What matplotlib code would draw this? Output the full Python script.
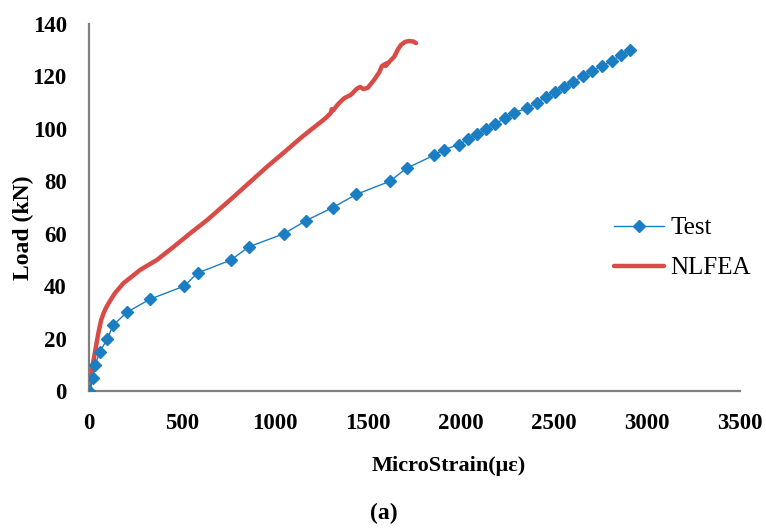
import matplotlib
matplotlib.use("Agg")
import matplotlib.pyplot as plt

# Test data
test_strain = [0, 23, 32, 59, 99, 129, 203, 327, 511, 584, 764, 859, 1048, 1167,
               1311, 1437, 1617, 1708, 1857, 1906, 1989, 2037, 2086, 2132, 2184,
               2237, 2283, 2355, 2406, 2456, 2504, 2553, 2604, 2654, 2706, 2760,
               2812, 2860, 2906]
test_load = [0, 5, 10, 15, 20, 25, 30, 35, 40, 45, 50, 55, 60, 65,
             70, 75, 80, 85, 90, 92, 94, 96, 98, 100, 102,
             104, 106, 108, 110, 112, 114, 116, 118, 120, 122, 124,
             126, 128, 130]

# NLFEA curve
fea_strain = [0, 10, 20, 35, 50, 65, 80, 95, 115, 140, 185, 275, 365, 455, 545,
              635, 778, 958, 1048, 1138, 1192, 1264, 1300, 1305, 1312, 1340,
              1372, 1408, 1440, 1458, 1475, 1498, 1533, 1560, 1575, 1600, 1595,
              1620, 1641, 1660, 1677, 1700, 1720, 1745, 1758]
fea_load = [0, 5, 10, 16, 22, 27, 30, 32.2, 34.6, 37.4, 41.1, 46.2, 50, 55, 60.2,
            65.2, 74.1, 85.6, 91, 96.5, 99.6, 103.6, 106, 107.5, 107, 109.5,
            111.7, 113, 115.3, 116, 115.2, 115.6, 118.7, 121.5, 124, 125, 124,
            126, 127.5, 130.2, 132, 133.2, 133.5, 133.3, 132.7]

plt.rcParams['font.family'] = ['Liberation Serif', 'DejaVu Serif']

fig = plt.figure(figsize=(7.66, 5.31), dpi=100)
ax = fig.add_axes([89/766, 1 - 391/531, (740 - 89)/766, (391 - 24)/531])

ax.plot(test_strain, test_load, color='#1b7ec2', lw=1.0, marker='D',
        markersize=6, label='Test', zorder=3)
ax.plot(fea_strain, fea_load, color='#d94b46', lw=3.2, label='NLFEA',
        solid_capstyle='round', solid_joinstyle='round', zorder=2)

ax.set_xlim(0, 3500)
ax.set_ylim(0, 140)
ax.set_xticks(range(0, 3501, 500))
ax.set_yticks(range(0, 141, 20))

for s in ('top', 'right'):
    ax.spines[s].set_visible(False)
for s in ('left', 'bottom'):
    ax.spines[s].set_color('#808080')
    ax.spines[s].set_linewidth(1.6)

ax.tick_params(length=0, labelsize=16.5, pad=16)
for lab in ax.get_xticklabels() + ax.get_yticklabels():
    lab.set_fontweight('bold')

fig.text(449/766, 1 - 466/531, 'MicroStrain(με)', ha='center', va='center',
         fontsize=16, fontweight='bold')
fig.text(23/766, 1 - 228/531, 'Load (kN)', ha='center', va='center',
         rotation=90, fontsize=17, fontweight='bold')

ax.legend(loc='center left', bbox_to_anchor=(614/766, 1 - 248/531),
          bbox_transform=fig.transFigure, frameon=False, fontsize=18,
          handlelength=2.0, handletextpad=0.25, labelspacing=0.7,
          borderpad=0, borderaxespad=0)

fig.text(384/766, 1 - 513/531, '(a)', ha='center', va='center',
         fontsize=17, fontweight='bold')

fig.savefig('out.png', dpi=100)
